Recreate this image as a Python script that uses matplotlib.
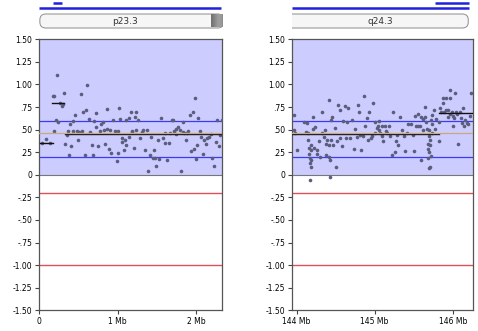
import numpy as np
import matplotlib
matplotlib.use('Agg')
import matplotlib.pyplot as plt
from matplotlib.patches import FancyBboxPatch

# ---- data: (position Mb, log2 ratio) ----
left_points = [
    (0.04, .35), (0.09, .40), (0.14, .35), (0.17, .87), (0.19, .87), (0.19, .49), (0.22, 1.10),
    (0.21, .61), (0.24, .58), (0.26, .80), (0.29, .76), (0.30, .78), (0.31, .91), (0.33, .34),
    (0.35, .44), (0.37, .49), (0.38, .22), (0.39, .56), (0.41, .32), (0.43, .60), (0.43, .49),
    (0.45, .66), (0.48, .49), (0.49, .39), (0.51, .47), (0.53, .90), (0.54, .49), (0.56, .70),
    (0.58, .22), (0.60, .72), (0.61, .99), (0.63, .62), (0.65, .47), (0.67, .33), (0.69, .22),
    (0.70, .60), (0.72, .53), (0.73, .68), (0.75, .32), (0.77, .49), (0.79, .56), (0.81, .58),
    (0.82, .50), (0.84, .34), (0.86, .73), (0.87, .51), (0.89, .29), (0.90, .50), (0.92, .24),
    (0.94, .61), (0.97, .49), (0.99, .15), (1.00, .24), (1.01, .49), (1.02, .74), (1.03, .62),
    (1.05, .41), (1.06, .36), (1.08, .27), (1.09, .39), (1.11, .61), (1.11, .33), (1.14, .63),
    (1.15, .42), (1.17, .69), (1.18, .47), (1.19, .49), (1.21, .30), (1.22, .64), (1.23, .70),
    (1.24, .50), (1.26, .61), (1.29, .41), (1.31, .47), (1.33, .50), (1.35, .27), (1.37, .50),
    (1.39, .04), (1.41, .22), (1.43, .42), (1.45, .19), (1.46, .27), (1.48, .19), (1.49, .10),
    (1.51, .38), (1.53, .17), (1.56, .63), (1.58, .41), (1.60, .35), (1.61, .46), (1.63, .16),
    (1.65, .35), (1.67, .46), (1.69, .61), (1.71, .61), (1.72, .49), (1.74, .51), (1.75, .45),
    (1.77, .53), (1.80, .50), (1.81, .04), (1.83, .47), (1.84, .58), (1.85, .46), (1.87, .38),
    (1.89, .46), (1.90, .49), (1.92, .66), (1.94, .26), (1.96, .70), (1.97, .29), (1.99, .85),
    (2.00, .17), (2.02, .33), (2.03, .63), (2.05, .49), (2.07, .42), (2.09, .23), (2.10, .38),
    (2.13, .34), (2.14, .41), (2.17, .42), (2.19, .45), (2.21, .19), (2.23, .10), (2.26, .36),
    (2.27, .61), (2.29, .32), (2.31, .44), (2.33, .61),
]
right_points = [
    (143.96, .66), (143.96, .50), (143.98, .46), (144.00, .27), (144.10, .58), (144.12, .47),
    (144.13, .57), (144.14, .46), (144.15, .39), (144.16, .30), (144.16, .23), (144.17, .19),
    (144.17, .13), (144.17, -.06), (144.18, .33), (144.19, .28), (144.19, .09), (144.18, .16),
    (144.21, .51), (144.21, .64), (144.22, .30), (144.24, .53), (144.26, .28), (144.26, .23),
    (144.28, .37), (144.30, .20), (144.32, .69), (144.33, .46), (144.35, .42), (144.36, .50),
    (144.38, .22), (144.38, .34), (144.39, .39), (144.41, .83), (144.41, .20), (144.42, .33),
    (144.43, .16), (144.43, -.02), (144.44, .61), (144.44, .39), (144.45, .64), (144.47, .33),
    (144.49, .52), (144.51, .09), (144.52, .37), (144.53, .77), (144.55, .72), (144.56, .41),
    (144.58, .32), (144.60, .60), (144.62, .76), (144.63, .41), (144.65, .58), (144.66, .74),
    (144.68, .41), (144.71, .61), (144.73, .29), (144.75, .51), (144.77, .42), (144.79, .77),
    (144.80, .70), (144.81, .44), (144.83, .27), (144.85, .43), (144.86, .87), (144.88, .54),
    (144.90, .63), (144.91, .39), (144.93, .70), (144.95, .41), (144.97, .43), (144.98, .80),
    (145.00, .46), (145.01, .58), (145.03, .52), (145.04, .54), (145.05, .60), (145.06, .50),
    (145.07, .46), (145.09, .54), (145.10, .43), (145.11, .37), (145.13, .54), (145.15, .48),
    (145.16, .46), (145.18, .54), (145.20, .43), (145.22, .22), (145.24, .70), (145.26, .25),
    (145.27, .37), (145.29, .44), (145.30, .33), (145.32, .64), (145.35, .50), (145.37, .43),
    (145.39, .26), (145.41, .46), (145.43, .56), (145.46, .56), (145.49, .44), (145.50, .26),
    (145.52, .65), (145.53, .54), (145.55, .54), (145.56, .67), (145.58, .54), (145.59, .64),
    (145.60, .16), (145.62, .50), (145.62, .62), (145.64, .75), (145.65, .64), (145.66, .59),
    (145.67, .51), (145.68, .34), (145.68, .19), (145.68, .29), (145.69, .43), (145.69, .25),
    (145.70, .07), (145.70, .50), (145.71, .33), (145.71, .09), (145.71, .38), (145.72, .61),
    (145.72, .21), (145.73, .46), (145.73, .56), (145.74, .66), (145.76, .72), (145.77, .51),
    (145.79, .62), (145.82, .37), (145.83, .59), (145.84, .74), (145.85, .69), (145.87, .79),
    (145.88, .85), (145.89, .70), (145.91, .72), (145.92, .85), (145.94, .64), (145.94, .72),
    (145.96, .85), (145.97, .67), (145.99, .69), (146.00, .65), (146.01, .54), (146.02, .63),
    (146.04, .70), (146.05, .67), (146.07, .34), (146.09, .69), (146.10, .63), (146.12, .57),
    (146.13, .74), (146.15, .54), (146.16, .61), (146.18, .57), (146.20, .56), (146.22, .65),
    (146.24, .91), (145.97, .94), (146.03, .91),
]

# segments: (start, end, value)
left_segments = [(0.01, 0.17, 0.35), (0.166, 0.315, 0.80), (0.33, 2.337, 0.455)]
right_segments = [(143.944, 145.83, 0.45), (145.83, 146.264, 0.68)]
baseline = 0.465
gain_thr = [0.6, 0.2]
loss_thr = [-0.2, -1.0]

left_xlim = (0, 2.337)
right_xlim = (143.944, 146.264)
left_ticks = [0, 1, 2]
left_ticklabels = ['0', '1 Mb', '2 Mb']
right_ticks = [144, 145, 146]
right_ticklabels = ['144 Mb', '145 Mb', '146 Mb']
yticks = [1.5, 1.25, 1.0, 0.75, 0.5, 0.25, 0, -0.25, -0.5, -0.75, -1.0, -1.25, -1.5]
yticklabels = ['1.50', '1.25', '1.00', '.75', '.50', '.25', '0', '-.25', '-.50', '-.75',
               '-1.00', '-1.25', '-1.50']

# band / region annotations above each panel
left_band = 'p23.3'
left_band_end = 2.19
left_regions = [(0.0, 2.32, 'long'), (0.175, 0.29, 'short')]
right_band = 'q24.3'
right_band_end = 146.2
right_regions = [(143.944, 146.21, 'long'), (145.77, 146.21, 'short')]

W, H = 478, 331
fig = plt.figure(figsize=(W / 100, H / 100), dpi=100)


def px(x0, y0, x1, y1):
    return [x0 / W, 1 - y1 / H, (x1 - x0) / W, (y1 - y0) / H]


def panel(rect, pts, segs, xlim, ticks, ticklabels):
    xs, ys = np.array(pts).T
    ax = fig.add_axes(rect)
    ax.set_xlim(*xlim)
    ax.set_ylim(-1.5, 1.5)
    ax.axhspan(0, 1.5, color='#ccccff', zorder=0, lw=0)
    ax.axhline(0, color='#777777', lw=0.8, zorder=1)
    for v in gain_thr:
        ax.axhline(v, color='#3b3bf0', lw=0.9, zorder=2)
    for v in loss_thr:
        ax.axhline(v, color='#e0505a', lw=1.0, zorder=2)
    ax.plot(xs, ys, 'o', color='#5c5c7c', ms=2.6, mew=0, zorder=3)
    for x0, x1, v in segs:
        ax.plot([x0, x1], [v, v], color='#111111', lw=1.0, zorder=4)
    ax.axhline(baseline, color='#c8aa78', lw=0.9, zorder=4)
    ax.set_yticks(yticks)
    ax.set_yticklabels(yticklabels)
    ax.set_xticks(ticks)
    ax.set_xticklabels(ticklabels)
    ax.tick_params(labelsize=5.5, length=3, width=0.8, color='#444444', pad=2)
    for s in ax.spines.values():
        s.set_color('#555555')
        s.set_linewidth(0.9)
    return ax


ax1 = panel(px(39.3, 39.3, 222.3, 310.3), left_points, left_segments,
            left_xlim, left_ticks, left_ticklabels)
ax2 = panel(px(292.3, 39.3, 473.3, 310.3), right_points, right_segments,
            right_xlim, right_ticks, right_ticklabels)


def band(rect, xlim, regions, label, band_end, grey_block, left_open):
    ax = fig.add_axes(rect)
    ax.axis('off')
    for x0, x1, kind in regions:
        y = 22 if kind == 'long' else 26.8
        ax.plot([x0, x1], [y, y], color='#2020e0', lw=1.8, solid_capstyle='butt')
    span = xlim[1] - xlim[0]
    bw = rect[2] * W
    x_start = xlim[0] - 0.1 * span if left_open else xlim[0] + 0.003 * span
    width = band_end - x_start + (0.07 * span if grey_block else 0)
    box = FancyBboxPatch((x_start, 2.0), width, 14.0,
                         boxstyle='round,pad=0,rounding_size=%f' % (6 * span / bw),
                         mutation_aspect=bw / span, fc='#f6f6f6', ec='#9a9a9a', lw=0.8)
    ax.add_patch(box)
    if grey_block:
        g = np.array([0.45, 0.5, 0.55, 0.6, 0.62, 0.6, 0.55]).reshape(1, -1)
        ax.imshow(np.vstack([g, g]), cmap='gray', vmin=0, vmax=1, aspect='auto',
                  extent=(band_end, band_end + 0.068 * span, 2.5, 15.5), zorder=3)
    ax.text((max(xlim[0], x_start) + band_end) / 2, 9.0, label, ha='center', va='center',
            fontsize=6.5, color='#333333')
    ax.set_xlim(*xlim)
    ax.set_ylim(0, 30)
    return ax


band(px(39.3, 0, 222.3, 30), left_xlim, left_regions, left_band, left_band_end, True, False)
band(px(292.3, 0, 473.3, 30), right_xlim, right_regions, right_band, right_band_end, False, True)

fig.savefig('out.png', dpi=100)
